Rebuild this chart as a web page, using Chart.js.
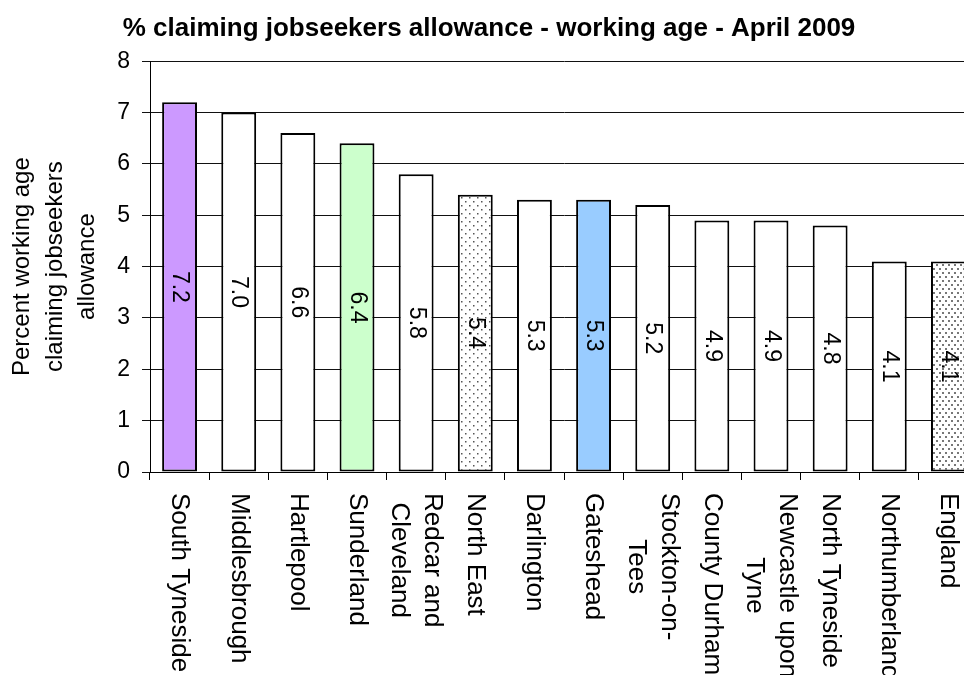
<!DOCTYPE html>
<html>
<head>
<meta charset="utf-8">
<script src="https://cdn.jsdelivr.net/npm/chart.js@4/dist/chart.umd.min.js"></script>
<style>
  html, body { margin: 0; padding: 0; background: #fff; overflow: hidden; }
  #wrap { width: 978px; height: 675px; }
</style>
</head>
<body>
<div id="wrap"><canvas id="jsaChart"></canvas></div>
<script>
// Areas, with the share of working age people on JSA (%)
const categories = [
    'South Tyneside', 'Middlesbrough', 'Hartlepool', 'Sunderland',
    ['Redcar and', 'Cleveland'], 'North East', 'Darlington', 'Gateshead',
    ['Stockton-on-', 'Tees'], 'County Durham', ['Newcastle upon', 'Tyne'],
    'North Tyneside', 'Northumberland', 'England'
];
const values = [7.2, 7.0, 6.6, 6.4, 5.8, 5.4, 5.3, 5.3, 5.2, 4.9, 4.9, 4.8, 4.1, 4.1];
const yTicks = [0, 1, 2, 3, 4, 5, 6, 7, 8];

const FONT = '"Liberation Sans", Arial, sans-serif';

// dotted fill used for the regional and national averages
function dotPattern(w, h, dot, colour, dots) {
    const c = document.createElement('canvas');
    c.width = w;
    c.height = h;
    const g = c.getContext('2d');
    g.fillStyle = '#fff';
    g.fillRect(0, 0, w, h);
    g.fillStyle = colour;
    dots.forEach(([dx, dy]) => g.fillRect(dx, dy, dot, dot));
    return g.createPattern(c, 'repeat');
}
const northEastFill = dotPattern(8, 8, 1.5, '#555', [[1, 1], [5, 5]]);
const englandFill = dotPattern(6, 8, 2, '#777', [[0, 0], [3, 4]]);

const fills = [
    '#cc99ff', '#ffffff', '#ffffff', '#ccffcc', '#ffffff', northEastFill, '#ffffff',
    '#99ccff', '#ffffff', '#ffffff', '#ffffff', '#ffffff', '#ffffff', englandFill
];

// value written inside each bar, turned on its side
const barValueLabels = {
    id: 'barValueLabels',
    afterDatasetsDraw(chart) {
        const ctx = chart.ctx;
        const meta = chart.getDatasetMeta(0);
        ctx.save();
        ctx.font = '23px ' + FONT;
        ctx.fillStyle = '#000';
        ctx.textAlign = 'center';
        ctx.textBaseline = 'middle';
        meta.data.forEach((bar, i) => {
            ctx.save();
            ctx.translate(bar.x, (bar.y + bar.base) / 2);
            ctx.rotate(Math.PI / 2);
            ctx.fillText(values[i].toFixed(1), 0, 0);
            ctx.restore();
        });
        ctx.restore();
    }
};

// area names under the axis, reading top to bottom
const categoryLabels = {
    id: 'categoryLabels',
    afterDraw(chart) {
        const ctx = chart.ctx;
        const xScale = chart.scales.x;
        const lineHeight = 33;
        ctx.save();
        ctx.font = '26px ' + FONT;
        ctx.fillStyle = '#000';
        ctx.textAlign = 'left';
        ctx.textBaseline = 'middle';
        categories.forEach((cat, i) => {
            const lines = Array.isArray(cat) ? cat : [cat];
            const widths = lines.map(l => ctx.measureText(l).width);
            const maxW = Math.max(...widths);
            ctx.save();
            ctx.translate(xScale.getPixelForValue(i), xScale.top + 21);
            ctx.rotate(Math.PI / 2);
            lines.forEach((line, j) => {
                ctx.fillText(line, (maxW - widths[j]) / 2, (j - (lines.length - 1) / 2) * lineHeight);
            });
            ctx.restore();
        });
        ctx.restore();
    }
};

new Chart(document.getElementById('jsaChart'), {
    type: 'bar',
    data: {
        labels: categories,
        datasets: [{
            data: values,
            backgroundColor: fills,
            borderColor: '#000',
            borderWidth: 2,
            borderSkipped: false,
            barPercentage: 0.59,
            categoryPercentage: 1
        }]
    },
    options: {
        responsive: true,
        maintainAspectRatio: false,
        animation: false,
        layout: { padding: 0 },
        plugins: {
            legend: { display: false },
            tooltip: { enabled: false },
            title: {
                display: true,
                text: '% claiming jobseekers allowance - working age - April 2009',
                color: '#000',
                font: { family: FONT, size: 26, weight: 'bold', lineHeight: 1.2 },
                padding: { top: 13, bottom: 17 }
            }
        },
        scales: {
            x: {
                offset: true,
                grid: {
                    offset: true,
                    drawOnChartArea: false,
                    drawTicks: true,
                    tickLength: 8,
                    color: '#000'
                },
                border: { color: '#000', width: 1 },
                ticks: { display: false },
                afterFit(scale) { scale.height = 203; }
            },
            y: {
                min: 0,
                max: 8,
                afterBuildTicks(scale) {
                    scale.ticks = yTicks.map(v => ({ value: v }));
                },
                grid: { color: '#111', tickLength: 8 },
                border: { color: '#000', width: 1 },
                ticks: {
                    color: '#000',
                    padding: 12,
                    font: { family: FONT, size: 23 }
                },
                title: {
                    display: true,
                    text: ['Percent working age', 'claiming jobseekers', 'allowance'],
                    color: '#000',
                    font: { family: FONT, size: 24, lineHeight: 1.36 },
                    padding: { top: 6, bottom: 0 }
                },
                afterFit(scale) { scale.width = 150; }
            }
        }
    },
    plugins: [barValueLabels, categoryLabels]
});
</script>
</body>
</html>
